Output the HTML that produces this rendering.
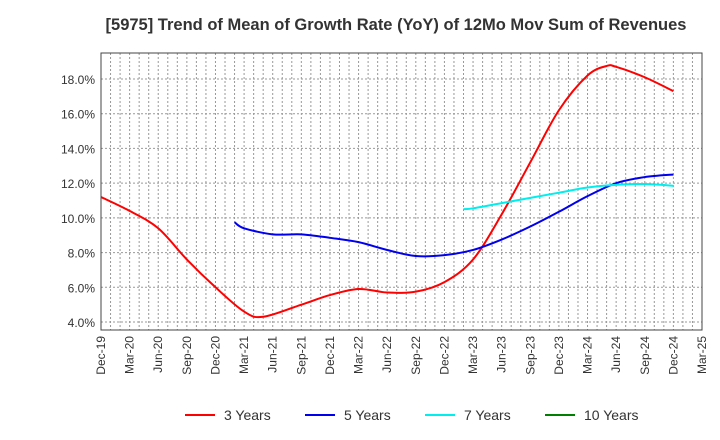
<!DOCTYPE html>
<html><head><meta charset="utf-8"><style>
body{margin:0;background:#fff;font-family:"Liberation Sans",sans-serif}
svg{display:block}
</style></head><body>
<svg width="720" height="440" xmlns="http://www.w3.org/2000/svg">
<text x="396" y="30" text-anchor="middle" font-size="16.5" font-weight="bold" fill="#333">[5975]  Trend of Mean of Growth Rate (YoY) of 12Mo Mov Sum of Revenues</text>
<g id="grid"></g><g id="axes"></g><g id="series"></g><g id="legend"></g>
</svg>
<script>
const xLabels=["Dec-19","Mar-20","Jun-20","Sep-20","Dec-20","Mar-21","Jun-21","Sep-21","Dec-21","Mar-22","Jun-22","Sep-22","Dec-22","Mar-23","Jun-23","Sep-23","Dec-23","Mar-24","Jun-24","Sep-24","Dec-24","Mar-25"];
const yTicks=[4,6,8,10,12,14,16,18];
const red3Months=[0,3,6,9,12,15,17,21,24,27,30,33,36,39,42,45,48,51,53,54,57,60];
const red3Values=[11.2,10.4,9.4,7.6,6.0,4.6,4.3,5.0,5.55,5.9,5.7,5.75,6.3,7.6,10.2,13.2,16.2,18.2,18.75,18.7,18.1,17.3];
const blue5Months=[14,15,18,21,24,27,30,33,36,39,42,45,48,51,54,57,60];
const blue5Values=[9.75,9.4,9.05,9.05,8.85,8.6,8.15,7.8,7.85,8.15,8.75,9.5,10.35,11.25,12.0,12.35,12.5];
const cyan7Months=[38,39,42,45,48,51,54,57,60];
const cyan7Values=[10.5,10.55,10.85,11.15,11.45,11.75,11.9,11.95,11.85];
const NS="http://www.w3.org/2000/svg";
const L=101,R=702,T=53,B=330;
const xs=m=>L+m*(R-L)/63;
const ys=v=>79+(18-v)*(322-79)/14;
function el(t,a,p){const e=document.createElementNS(NS,t);for(const k in a)e.setAttribute(k,a[k]);p.appendChild(e);return e;}
const grid=document.getElementById('grid'),axes=document.getElementById('axes'),ser=document.getElementById('series'),leg=document.getElementById('legend');
for(let m=1;m<63;m++){const l=el('line',{x1:xs(m),x2:xs(m),y1:T,y2:B,stroke:'#999','stroke-dasharray':'2,2','stroke-width':1},grid);
}
yTicks.forEach(v=>{const l=el('line',{x1:L,x2:R,y1:ys(v),y2:ys(v),stroke:'#999','stroke-dasharray':'2,2'},grid);

const t=el('text',{x:L-6,y:ys(v)+5,'text-anchor':'end','font-size':12,fill:'#333'},axes);t.textContent=v.toFixed(1)+'%';
});
const fr=el('rect',{x:L,y:T,width:R-L,height:B-T,fill:'none',stroke:'#444'},axes);

xLabels.forEach((s,i)=>{const x=xs(i*3);const t=el('text',{x:x+4,y:B+6,'text-anchor':'end','font-size':12,fill:'#333',transform:`rotate(-90 ${x+4} ${B+6})`},axes);t.textContent=s;
});
function smooth(ms,vs){const p=ms.map((m,i)=>[xs(m),ys(vs[i])]);let d=`M${p[0][0]},${p[0][1]}`;
for(let i=0;i<p.length-1;i++){const p0=p[i-1]||p[i],p1=p[i],p2=p[i+1],p3=p[i+2]||p2;
d+=` C${p1[0]+(p2[0]-p0[0])/6},${p1[1]+(p2[1]-p0[1])/6} ${p2[0]-(p3[0]-p1[0])/6},${p2[1]-(p3[1]-p1[1])/6} ${p2[0]},${p2[1]}`;}return d;}
[[red3Months,red3Values,'#ff0000','line-3-years'],[blue5Months,blue5Values,'#0000ee','line-5-years'],[cyan7Months,cyan7Values,'#00eeee','line-7-years']].forEach(s=>{
const p=el('path',{d:smooth(s[0],s[1]),fill:'none',stroke:s[2],'stroke-width':2},ser);
});
[['3 Years','#ff0000',185],['5 Years','#0000ee',305],['7 Years','#00eeee',425],['10 Years','#008000',545]].forEach(e=>{
const g=el('g',{},leg);
el('line',{x1:e[2],x2:e[2]+30,y1:415,y2:415,stroke:e[1],'stroke-width':2},g);
const t=el('text',{x:e[2]+39,y:420,'font-size':14,fill:'#333'},g);t.textContent=e[0];});
</script>
</body></html>
